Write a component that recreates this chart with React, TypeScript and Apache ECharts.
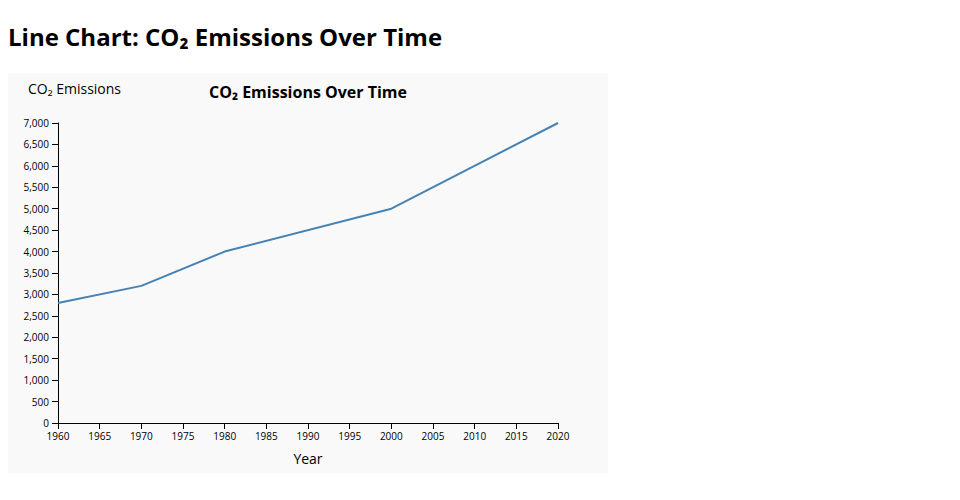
import React, { useEffect, useRef } from "react";
import * as echarts from "echarts";

const years = [1960, 1970, 1980, 2000, 2020];
const emissions = [2800, 3200, 4000, 5000, 7000];
const pageTitle = "Line Chart: CO₂ Emissions Over Time";
const chartTitle = "CO₂ Emissions Over Time";
const yAxisTitle = "CO₂ Emissions";
const xAxisTitle = "Year";

const FONT = "'Open Sans', 'Noto Sans', sans-serif";

export default function App() {
  const ref = useRef<HTMLDivElement>(null);
  useEffect(() => {
    if (!ref.current) return;
    const chart = echarts.init(ref.current, null, { renderer: "svg" });
    chart.setOption({
      animation: false,
      backgroundColor: "#ffffff",
      textStyle: { fontFamily: FONT },
      graphic: [
        {
          type: "rect",
          shape: { x: 8, y: 73, width: 600, height: 400 },
          style: { fill: "#f9f9f9" },
          z: -10,
          silent: true,
        },
        {
          type: "text",
          x: 8,
          y: 36,
          style: {
            text: pageTitle,
            fontFamily: FONT,
            fontSize: 24,
            fontWeight: "bold",
            fill: "#000",
            verticalAlign: "middle",
          },
        },
        {
          type: "text",
          x: 308,
          y: 92,
          style: {
            text: chartTitle,
            fontFamily: FONT,
            fontSize: 16,
            fontWeight: "bold",
            fill: "#000",
            align: "center",
            verticalAlign: "middle",
          },
        },
        {
          type: "text",
          x: 28,
          y: 88,
          style: {
            text: yAxisTitle,
            fontFamily: FONT,
            fontSize: 14,
            fill: "#000",
            align: "left",
            verticalAlign: "middle",
          },
        },
        {
          type: "text",
          x: 308,
          y: 458,
          style: {
            text: xAxisTitle,
            fontFamily: FONT,
            fontSize: 14,
            fill: "#000",
            align: "center",
            verticalAlign: "middle",
          },
        },
      ],
      grid: { left: 58, right: 402, top: 123, bottom: 77, containLabel: false },
      xAxis: {
        type: "value",
        min: 1960,
        max: 2020,
        interval: 5,
        axisLine: { show: true, lineStyle: { color: "#000", width: 1 } },
        axisTick: { show: true, inside: false, length: 6, lineStyle: { color: "#000" } },
        axisLabel: { fontSize: 10, color: "#000", margin: 8, fontFamily: FONT, formatter: (v: number) => String(v) },
        splitLine: { show: false },
      },
      yAxis: {
        type: "value",
        min: 0,
        max: 7000,
        interval: 500,
        axisLine: { show: true, lineStyle: { color: "#000", width: 1 } },
        axisTick: { show: true, inside: false, length: 6, lineStyle: { color: "#000" } },
        axisLabel: {
          fontSize: 10,
          color: "#000",
          margin: 9,
          fontFamily: FONT,
          formatter: (v: number) => v.toLocaleString("en-US"),
        },
        splitLine: { show: false },
      },
      series: [
        {
          type: "line",
          data: years.map((y, i) => [y, emissions[i]]),
          showSymbol: false,
          symbol: "none",
          lineStyle: { color: "#4682b4", width: 2 },
          itemStyle: { color: "#4682b4" },
        },
      ],
    });
    return () => chart.dispose();
  }, []);
  return (
    <div
      ref={ref}
      style={{ position: "absolute", left: 0, top: 0, width: 960, height: 500 }}
    />
  );
}
